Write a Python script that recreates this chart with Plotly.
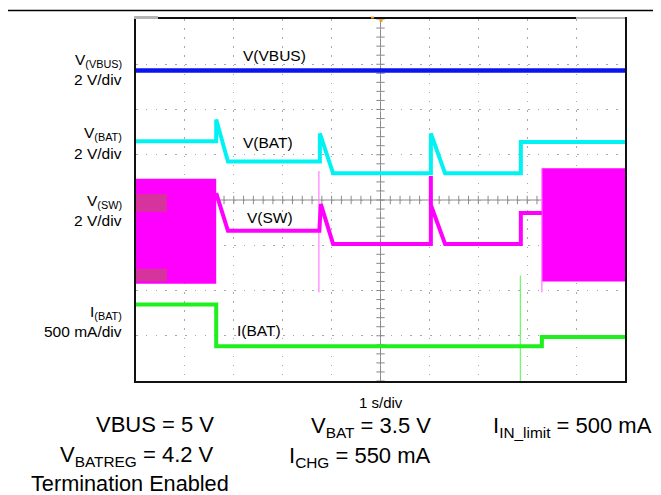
import numpy as np
import plotly.graph_objects as go

# ---- data (oscilloscope divisions: x = time div (1 s/div), y = screen div) ----
vbus_x = [0, 10]
vbus_y = [6.86, 6.86]

vbat_x = [0, 1.64, 1.64, 1.88, 3.76, 3.76, 4.03, 6.03, 6.03, 6.32, 7.87, 7.87, 10]
vbat_y = [5.30, 5.30, 5.78, 4.85, 4.85, 5.47, 4.59, 4.59, 5.47, 4.59, 4.59, 5.28, 5.28]

vsw_x = [1.64, 1.88, 3.75, 3.78, 4.03, 6.03, 6.03, 6.03, 6.32, 7.87, 7.87, 8.30]
vsw_y = [4.15, 3.32, 3.32, 3.91, 3.03, 3.03, 4.53, 3.89, 3.03, 3.03, 3.71, 3.71]

vsw_band1_x = [0, 1.64]
vsw_band1_y = [2.15, 4.47]
vsw_band2_x = [8.30, 10]
vsw_band2_y = [2.20, 4.70]

vsw_spike1_x = [3.74, 3.74]
vsw_spike1_y = [1.96, 4.64]
vsw_spike2_x = [8.30, 8.30]
vsw_spike2_y = [1.96, 4.70]

ibat_x = [0, 1.64, 1.64, 8.30, 8.30, 10]
ibat_y = [1.69, 1.69, 0.77, 0.77, 0.97, 0.97]
ibat_spike_x = [7.86, 7.86]
ibat_spike_y = [0.0, 2.33]

marker_x = [0, 0.63]
marker1_y = [3.74, 4.13]
marker2_y = [2.20, 2.48]

# ---- geometry (page pixels; the page body adds an 8 px offset) ----
OFF = 8
PAGE_W, PAGE_H = 661, 495
W, H = PAGE_W - OFF, PAGE_H - OFF
L, R, T, B = 136, 625, 17, 381
PW, PH = R - L, B - T


def px(x):
    return (x - L) / PW


def py(y):
    return (B - y) / PH


BLUE = "#0a14f0"
CYAN = "#00f2f2"
MAG = "#ff00ff"
GREEN = "#1ef01e"
FONT = "Liberation Sans, Arial, sans-serif"

fig = go.Figure()


def rect_trace(xs, ys, color):
    fig.add_trace(go.Scatter(
        x=[xs[0], xs[1], xs[1], xs[0], xs[0]],
        y=[ys[0], ys[0], ys[1], ys[1], ys[0]],
        mode="lines", fill="toself", fillcolor=color,
        line=dict(color=color, width=0), hoverinfo="skip", showlegend=False))


def line_trace(xs, ys, color, width):
    fig.add_trace(go.Scatter(x=xs, y=ys, mode="lines",
                             line=dict(color=color, width=width),
                             hoverinfo="skip", showlegend=False))


# center-line minor ticks
tx = np.arange(0, 10.001, 0.2)
ty = np.arange(0, 8.001, 0.2)
fig.add_trace(go.Scatter(x=tx, y=[4] * len(tx), mode="markers",
                         marker=dict(symbol="line-ns", size=6, line=dict(color="#8a8a8a", width=1)),
                         hoverinfo="skip", showlegend=False))
fig.add_trace(go.Scatter(x=[5] * len(ty), y=ty, mode="markers",
                         marker=dict(symbol="line-ew", size=6, line=dict(color="#8a8a8a", width=1)),
                         hoverinfo="skip", showlegend=False))

# VBUS
line_trace(vbus_x, vbus_y, BLUE, 4.5)
# VBAT
line_trace(vbat_x, vbat_y, CYAN, 4)
# VSW
rect_trace(vsw_band1_x, vsw_band1_y, MAG)
rect_trace(vsw_band2_x, vsw_band2_y, MAG)
rect_trace(marker_x, marker1_y, "#d6339c")
rect_trace(marker_x, marker2_y, "#d6339c")
line_trace(vsw_spike1_x, vsw_spike1_y, "#ff7cff", 1.2)
line_trace(vsw_spike2_x, vsw_spike2_y, "#ff7cff", 1.2)
line_trace(vsw_x, vsw_y, MAG, 4)
# IBAT
line_trace(ibat_spike_x, ibat_spike_y, "#6cf46c", 1.2)
line_trace(ibat_x, ibat_y, GREEN, 4)

shapes = [
    # center cross lines
    dict(type="line", xref="x", yref="y", x0=5, x1=5, y0=0, y1=8,
         line=dict(color="#8a8a8a", width=1), layer="below"),
    dict(type="line", xref="x", yref="y", x0=0, x1=10, y0=4, y1=4,
         line=dict(color="#8a8a8a", width=1), layer="below"),
    # top page rule
    dict(type="line", xref="paper", yref="paper", x0=px(OFF), x1=px(PAGE_W), y0=py(8.5), y1=py(8.5),
         line=dict(color="black", width=1.5)),
    # small scope artifacts at top
    dict(type="rect", xref="paper", yref="paper", x0=px(134), x1=px(158), y0=py(17), y1=py(14),
         fillcolor="#b4b4b4", line=dict(width=0)),
    dict(type="rect", xref="paper", yref="paper", x0=px(576), x1=px(625), y0=py(17), y1=py(15),
         fillcolor="#b4b4b4", line=dict(width=0)),
    dict(type="rect", xref="paper", yref="paper", x0=px(371), x1=px(374), y0=py(16.5), y1=py(14.5),
         fillcolor="#f0a020", line=dict(width=0)),
    dict(type="rect", xref="paper", yref="paper", x0=px(379.5), x1=px(382.5), y0=py(20), y1=py(17),
         fillcolor="#f0a020", line=dict(width=0)),
]

ann = []


def add_text(text, x, y, size, xanchor="right"):
    ann.append(dict(text=text, x=px(x), y=py(y), xref="paper", yref="paper",
                    xanchor=xanchor, yanchor="middle", showarrow=False,
                    font=dict(family=FONT, size=size, color="black")))


# left channel labels
add_text("V<sub>(VBUS)</sub>", 124, 59, 15.5)
add_text("2 V/div", 124, 78, 15.5)
add_text("V<sub>(BAT)</sub>", 124, 132, 15.5)
add_text("2 V/div", 124, 152, 15.5)
add_text("V<sub>(SW)</sub>", 124, 201, 15.5)
add_text("2 V/div", 124, 220, 15.5)
add_text("I<sub>(BAT)</sub>", 124, 312, 15.5)
add_text("500 mA/div", 124, 331, 15.5)

# in-plot trace labels
add_text("V(VBUS)", 241, 54, 15.5, "left")
add_text("V(BAT)", 241, 141, 15.5, "left")
add_text("V(SW)", 245, 217, 15.5, "left")
add_text("I(BAT)", 235, 330, 15.5, "left")

# time base
add_text("1 s/div", 381, 403, 15, "center")

# conditions
add_text("VBUS = 5 V", 216, 425, 22)
add_text("V<sub>BATREG</sub> = 4.2 V", 216, 456, 22)
add_text("Termination Enabled", 130, 484, 21.7, "center")
add_text("V<sub>BAT</sub> = 3.5 V", 433, 427, 22)
add_text("I<sub>CHG</sub> = 550 mA", 433, 457, 22)
add_text("I<sub>IN_limit</sub> = 500 mA", 491, 427, 22, "left")

fig.update_layout(
    width=W, height=H, autosize=False,
    margin=dict(l=L - OFF, r=PAGE_W - R, t=T - OFF, b=PAGE_H - B, pad=0),
    paper_bgcolor="white", plot_bgcolor="white",
    showlegend=False,
    shapes=shapes, annotations=ann,
    xaxis=dict(range=[0, 10], dtick=1, tick0=0, showticklabels=False, ticks="",
               showgrid=True, gridcolor="#a8a8a8", gridwidth=1, griddash="1.5px,7.6px",
               zeroline=False, showline=True, linecolor="#111111", linewidth=2, mirror=True,
               fixedrange=True),
    yaxis=dict(range=[0, 8], dtick=1, tick0=0, showticklabels=False, ticks="",
               showgrid=True, gridcolor="#a8a8a8", gridwidth=1, griddash="1.5px,8.3px",
               zeroline=False, showline=True, linecolor="#111111", linewidth=2, mirror=True,
               fixedrange=True),
)

fig.write_html("out.html")
